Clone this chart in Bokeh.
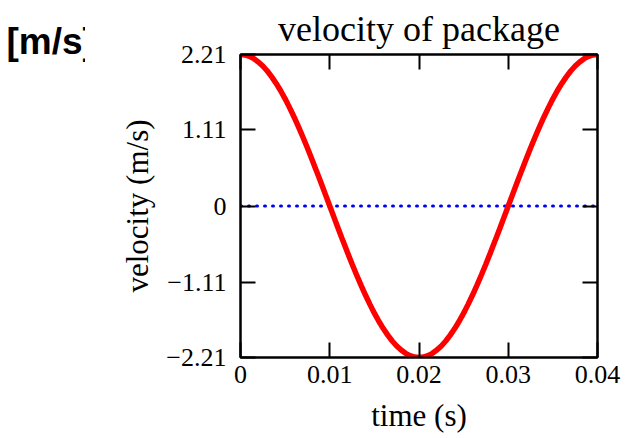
from bokeh.plotting import figure
from bokeh.layouts import row
from bokeh.models import (Range1d, FixedTicker, LinearAxis, CustomJSTickFormatter)
from bokeh.embed import file_html
from bokeh.resources import INLINE

# ---- data ----
time_s = [0.0000, 0.0005, 0.0010, 0.0015, 0.0020, 0.0025, 0.0030, 0.0035, 0.0040, 0.0045,
          0.0050, 0.0055, 0.0060, 0.0065, 0.0070, 0.0075, 0.0080, 0.0085, 0.0090, 0.0095,
          0.0100, 0.0105, 0.0110, 0.0115, 0.0120, 0.0125, 0.0130, 0.0135, 0.0140, 0.0145,
          0.0150, 0.0155, 0.0160, 0.0165, 0.0170, 0.0175, 0.0180, 0.0185, 0.0190, 0.0195,
          0.0200, 0.0205, 0.0210, 0.0215, 0.0220, 0.0225, 0.0230, 0.0235, 0.0240, 0.0245,
          0.0250, 0.0255, 0.0260, 0.0265, 0.0270, 0.0275, 0.0280, 0.0285, 0.0290, 0.0295,
          0.0300, 0.0305, 0.0310, 0.0315, 0.0320, 0.0325, 0.0330, 0.0335, 0.0340, 0.0345,
          0.0350, 0.0355, 0.0360, 0.0365, 0.0370, 0.0375, 0.0380, 0.0385, 0.0390, 0.0395,
          0.0400]
velocity = [2.210, 2.203, 2.183, 2.149, 2.102, 2.042, 1.969, 1.884, 1.788, 1.681,
            1.563, 1.435, 1.299, 1.155, 1.003, 0.846, 0.683, 0.516, 0.346, 0.173,
            0.000, -0.173, -0.346, -0.516, -0.683, -0.846, -1.003, -1.155, -1.299, -1.435,
            -1.563, -1.681, -1.788, -1.884, -1.969, -2.042, -2.102, -2.149, -2.183, -2.203,
            -2.210, -2.203, -2.183, -2.149, -2.102, -2.042, -1.969, -1.884, -1.788, -1.681,
            -1.563, -1.435, -1.299, -1.155, -1.003, -0.846, -0.683, -0.516, -0.346, -0.173,
            0.000, 0.173, 0.346, 0.516, 0.683, 0.846, 1.003, 1.155, 1.299, 1.435,
            1.563, 1.681, 1.788, 1.884, 1.969, 2.042, 2.102, 2.149, 2.183, 2.203,
            2.210]
zero_t = [0.0, 0.04]
zero_v = [0.0, 0.0]

x_ticks = [0, 0.01, 0.02, 0.03, 0.04]
x_tick_labels = ["0", "0.01", "0.02", "0.03", "0.04"]
y_ticks = [-2.21, -1.11, 0, 1.11, 2.21]
y_tick_labels = ["\u22122.21", "\u22121.11", "0", "1.11", "2.21"]

title_text = "velocity of package"
x_label = "time (s)"
y_label = "velocity (m/s)"
unit_text = "[m/s]"

SERIF = "Liberation Serif"
LEFT_W = 85

# ---- small left panel: its title is the unit text, cut at the panel edge ----
u = figure(width=LEFT_W, height=438, output_backend="svg", toolbar_location=None,
           x_range=Range1d(0, 1), y_range=Range1d(0, 1),
           x_axis_location=None, y_axis_location=None, title=unit_text,
           min_border_left=0, min_border_right=0, min_border_top=53,
           min_border_bottom=0, outline_line_color=None)
u.grid.visible = False
u.background_fill_color = "white"
u.border_fill_color = "white"
u.title.text_font = "Liberation Sans"
u.title.text_font_style = "bold"
u.title.text_font_size = "37px"
u.title.text_color = "black"
u.title.align = "left"
u.title.offset = 6
u.title.standoff = -15

# ---- main chart ----
p = figure(width=630 - LEFT_W, height=438, output_backend="svg", toolbar_location=None,
           x_range=Range1d(0, 0.04), y_range=Range1d(-2.21, 2.21),
           min_border_left=240 - LEFT_W, min_border_right=33, min_border_top=53,
           min_border_bottom=81)
p.background_fill_color = "white"
p.border_fill_color = "white"
p.outline_line_color = "black"
p.outline_line_width = 2
p.xgrid.visible = False
p.ygrid.visible = False

p.title.text = title_text
p.title.text_font = SERIF
p.title.text_font_size = "36px"
p.title.text_font_style = "normal"
p.title.text_color = "black"
p.title.align = "center"
p.title.standoff = 12

xaxis = p.xaxis[0]
xaxis.ticker = FixedTicker(ticks=x_ticks)
xaxis.major_label_overrides = {t: l for t, l in zip(x_ticks, x_tick_labels)}
yaxis = p.yaxis[0]
yaxis.ticker = FixedTicker(ticks=y_ticks)
yaxis.major_label_overrides = {t: l for t, l in zip(y_ticks, y_tick_labels)}

for ax in (xaxis, yaxis):
    ax.major_tick_in = 15
    ax.major_tick_out = 0
    ax.minor_tick_line_color = None
    ax.axis_line_width = 2
    ax.major_tick_line_width = 2
    ax.major_label_text_font = SERIF
    ax.major_label_text_font_size = "26px"
    ax.axis_label_text_font = SERIF
    ax.axis_label_text_font_size = "31px"
    ax.axis_label_text_font_style = "normal"
    ax.axis_label_text_color = "black"
    ax.major_label_text_color = "black"
xaxis.axis_label = x_label
yaxis.axis_label = y_label
xaxis.major_label_standoff = 8
xaxis.axis_label_standoff = 12
yaxis.major_label_standoff = 14
yaxis.axis_label_standoff = 8

blank = CustomJSTickFormatter(code="return ''")
top_axis = LinearAxis(ticker=FixedTicker(ticks=x_ticks), formatter=blank)
right_axis = LinearAxis(ticker=FixedTicker(ticks=y_ticks), formatter=blank)
for ax in (top_axis, right_axis):
    ax.major_tick_in = 15
    ax.major_tick_out = 0
    ax.minor_tick_line_color = None
    ax.axis_line_width = 2
    ax.major_tick_line_width = 2
    ax.major_label_standoff = 0
p.add_layout(top_axis, "above")
p.add_layout(right_axis, "right")

p.line(zero_t, zero_v, line_color="blue", line_width=3, line_dash="1 7",
       line_cap="round")
p.line(time_s, velocity, line_color="red", line_width=5.5)

layout = row(u, p, spacing=0)
open("out.html", "w").write(file_html(layout, INLINE))
